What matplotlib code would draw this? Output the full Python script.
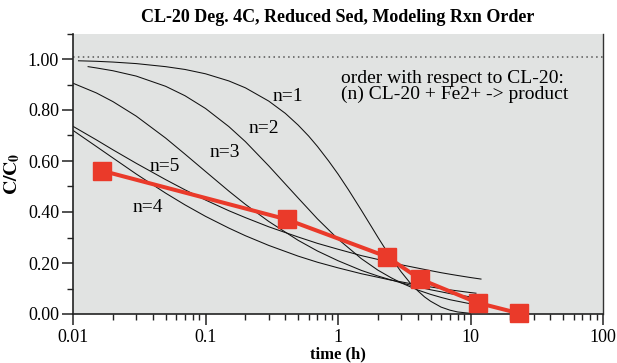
import matplotlib
matplotlib.use("Agg")
import matplotlib.pyplot as plt
from matplotlib.ticker import FixedLocator, FixedFormatter, LogLocator, NullFormatter, MultipleLocator, FormatStrFormatter

plt.rcParams['font.family'] = ['Liberation Serif', 'DejaVu Serif']
plt.rcParams['mathtext.fontset'] = 'stix'

# Measured data (red squares)
t_data = [0.0165, 0.41, 2.33, 4.16, 11.3, 23.1]
c_data = [0.562, 0.371, 0.225, 0.137, 0.044, 0.003]

# Model curves
t_n1 = [0.011, 0.015, 0.02, 0.03, 0.05, 0.07, 0.1, 0.15, 0.2, 0.3, 0.4, 0.5, 0.6, 0.7, 0.85, 1, 1.2, 1.5, 1.8, 2, 2.2, 2.5, 3, 3.5, 4, 4.5, 5, 6, 7, 8, 10]
c_n1 = [0.993, 0.991, 0.988, 0.982, 0.970, 0.959, 0.942, 0.914, 0.887, 0.835, 0.787, 0.741, 0.698, 0.657, 0.600, 0.549, 0.487, 0.407, 0.340, 0.301, 0.267, 0.223, 0.165, 0.122, 0.091, 0.067, 0.050, 0.027, 0.015, 0.008, 0.0025]

t_n2 = [0.013, 0.015, 0.02, 0.03, 0.05, 0.07, 0.1, 0.15, 0.2, 0.3, 0.5, 0.7, 1, 1.5, 2, 2.5, 3, 4, 5, 6, 7, 8, 10, 10.5]
c_n2 = [0.970, 0.965, 0.954, 0.933, 0.893, 0.856, 0.806, 0.735, 0.676, 0.581, 0.455, 0.373, 0.294, 0.217, 0.172, 0.143, 0.122, 0.094, 0.077, 0.065, 0.056, 0.050, 0.040, 0.038]

t_n3 = [0.01, 0.015, 0.02, 0.03, 0.05, 0.07, 0.1, 0.15, 0.2, 0.3, 0.5, 0.7, 1, 1.5, 2, 2.5, 3, 4, 5, 6, 7, 8, 10, 10.5]
c_n3 = [0.905, 0.867, 0.833, 0.776, 0.690, 0.627, 0.559, 0.482, 0.430, 0.363, 0.289, 0.247, 0.209, 0.171, 0.149, 0.134, 0.122, 0.106, 0.095, 0.087, 0.080, 0.075, 0.067, 0.066]

t_n4 = [0.01, 0.015, 0.02, 0.03, 0.05, 0.07, 0.1, 0.15, 0.2, 0.3, 0.5, 0.7, 1, 1.5, 2, 2.5, 3, 4, 5, 6, 7, 8, 10, 11]
c_n4 = [0.720, 0.657, 0.612, 0.549, 0.474, 0.428, 0.383, 0.337, 0.307, 0.269, 0.227, 0.203, 0.181, 0.158, 0.144, 0.133, 0.126, 0.114, 0.106, 0.0997, 0.0947, 0.0906, 0.0841, 0.0815]

t_n5 = [0.01, 0.015, 0.02, 0.03, 0.05, 0.07, 0.1, 0.15, 0.2, 0.3, 0.5, 0.7, 1, 1.5, 2, 2.5, 3, 4, 5, 6, 7, 8, 10, 12]
c_n5 = [0.736, 0.683, 0.644, 0.591, 0.527, 0.487, 0.447, 0.405, 0.378, 0.342, 0.302, 0.277, 0.254, 0.229, 0.214, 0.202, 0.193, 0.180, 0.170, 0.162, 0.156, 0.151, 0.143, 0.137]

curve_labels = ['n=1', 'n=2', 'n=3', 'n=5', 'n=4']
label_t = [0.323, 0.213, 0.108, 0.0381, 0.0284]
label_c = [0.851, 0.729, 0.635, 0.580, 0.416]

x_ticks = [0.01, 0.1, 1, 10, 100]
x_ticklabels = ['0.01', '0.1', '1', '10', '100']

fig = plt.figure(figsize=(6.17, 3.63), dpi=100)
ax = fig.add_axes([73/617, 49/363, 530/617, 280.5/363])
ax.set_facecolor('#e1e3e2')

for t, c in [(t_n1, c_n1), (t_n2, c_n2), (t_n3, c_n3), (t_n4, c_n4), (t_n5, c_n5)]:
    ax.plot(t, c, color='#111111', lw=0.75, zorder=2)

ax.axhline(1.006, color='#555555', lw=1.1, ls=(0, (1, 2.2)), zorder=1)

ax.plot(t_data, c_data, color='#ea3a2a', lw=2.9, marker='s', ms=13,
        markerfacecolor='#ea3a2a', markeredgecolor='#ea3a2a', clip_on=False, zorder=4)

for lab, tx, cy in zip(curve_labels, label_t, label_c):
    ax.text(tx, cy, lab, fontsize=14, ha='left', va='center', zorder=3)

ax.text(1.054, 0.958, 'order with respect to CL-20:\n(n) CL-20 + Fe2+ -> product',
        fontsize=14, ha='left', va='top', linespacing=0.92, zorder=3)

ax.set_xscale('log')
ax.set_xlim(0.01, 100)
ax.set_ylim(0, 1.1)

ax.xaxis.set_major_locator(FixedLocator(x_ticks))
ax.xaxis.set_major_formatter(FixedFormatter(x_ticklabels))
ax.xaxis.set_minor_locator(LogLocator(base=10, subs=[2, 3, 4, 5, 6, 7, 8, 9], numticks=20))
ax.xaxis.set_minor_formatter(NullFormatter())
ax.yaxis.set_major_locator(FixedLocator([0, 0.2, 0.4, 0.6, 0.8, 1.0]))
ax.yaxis.set_major_formatter(FormatStrFormatter('%.2f'))
ax.yaxis.set_minor_locator(MultipleLocator(0.1))

ax.tick_params(which='major', direction='out', length=8, width=1.1, labelsize=13, color='#222222')
ax.tick_params(which='minor', direction='out', length=4, width=1.0, color='#222222')
ax.tick_params(axis='x', which='major', pad=3)
ax.tick_params(axis='y', which='major', pad=2)

ax.spines['top'].set_visible(False)
for s in ['left', 'bottom']:
    ax.spines[s].set_linewidth(1.2)
    ax.spines[s].set_color('#222222')
ax.spines['right'].set_linewidth(1.0)
ax.spines['right'].set_color('#333333')

ax.set_xlabel('time (h)', fontsize=12, fontweight='bold', labelpad=0)
ax.set_ylabel(r'$\mathbf{C/C_0}$', fontsize=14, labelpad=4)
ax.set_title('CL-20 Deg. 4C, Reduced Sed, Modeling Rxn Order', fontsize=13,
             fontweight='bold', pad=8)

fig.savefig('out.png', dpi=100)
